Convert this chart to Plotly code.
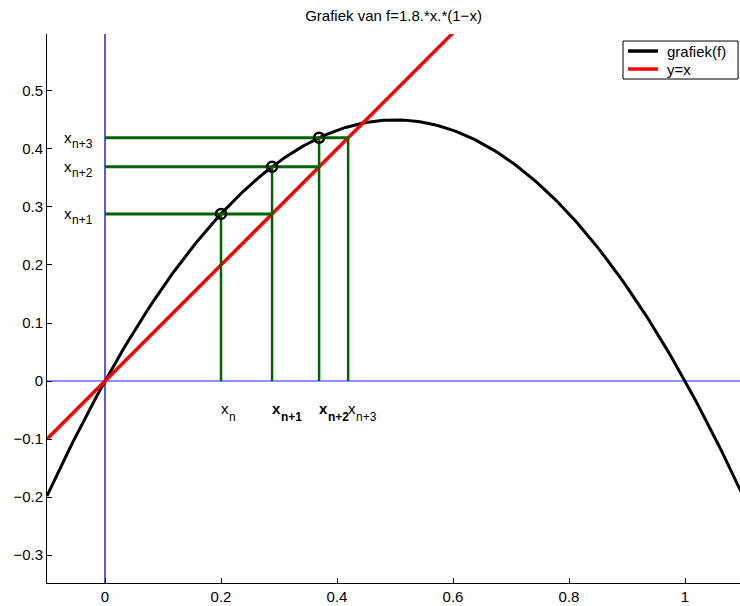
import numpy as np
import plotly.graph_objects as go

# Logistic map f(x) = r*x*(1-x) with r = 1.8
r = 1.8
curve_x = np.linspace(-0.1, 1.1, 241)
curve_y = r * curve_x * (1 - curve_x)

# identity line y = x
diag_x = [-0.1, 0.6]
diag_y = [-0.1, 0.6]

# cobweb iterates, starting at x_n = 0.2
iter_x = [0.2, 0.288, 0.3691, 0.4192]
iter_fx = [0.288, 0.3691, 0.4192]

x_ticks = [0, 0.2, 0.4, 0.6, 0.8, 1]
x_tick_text = ["0", "0.2", "0.4", "0.6", "0.8", "1"]
y_ticks = [-0.3, -0.2, -0.1, 0, 0.1, 0.2, 0.3, 0.4, 0.5]
y_tick_text = ["\u22120.3", "\u22120.2", "\u22120.1", "0", "0.1", "0.2", "0.3", "0.4", "0.5"]

legend_names = ["grafiek(f)", "y=x"]
legend_colors = ["black", "#ff0000"]

# iterate labels: (subscript, bold)
bottom_subs = [("n", False), ("n+1", True), ("n+2", True), ("n+3", False)]
left_subs = [("n+1", False), ("n+2", False), ("n+3", False)]

X_MIN, X_MAX = -0.1, 1.0948
Y_MIN, Y_MAX = -0.348, 0.598

GREEN = "#006400"
FONT = "Liberation Sans, Arial, sans-serif"

fig = go.Figure()


def add_sub_label(x, y, sub, bold, sub_drop):
    """Write 'x' with a lowered subscript, anchored at the left of (x, y)."""
    wrap = (lambda s: "<b>" + s + "</b>") if bold else (lambda s: s)
    fig.add_annotation(x=x, y=y, text=wrap("x"), showarrow=False, xanchor="left",
                       yanchor="middle", xshift=-2, font=dict(family=FONT, size=15, color="black"))
    fig.add_annotation(x=x, y=y, text=wrap(sub), showarrow=False, xanchor="left",
                       yanchor="middle", xshift=6 if not bold else 7, yshift=-sub_drop,
                       font=dict(family=FONT, size=12, color="black"))


# coordinate axes through the origin
fig.add_trace(go.Scatter(x=[X_MIN, X_MAX], y=[0, 0], mode="lines",
                         line=dict(color="#6b6bff", width=1.5), showlegend=False, hoverinfo="skip"))
fig.add_trace(go.Scatter(x=[0, 0], y=[Y_MIN, Y_MAX], mode="lines",
                         line=dict(color="#0000e0", width=1.3), showlegend=False, hoverinfo="skip"))

# graph of f and y = x
fig.add_trace(go.Scatter(x=curve_x, y=curve_y, mode="lines", name=legend_names[0],
                         line=dict(color=legend_colors[0], width=3), showlegend=False))
fig.add_trace(go.Scatter(x=diag_x, y=diag_y, mode="lines", name=legend_names[1],
                         line=dict(color=legend_colors[1], width=3.5), showlegend=False))

# vertical cobweb segments: from the x-axis up to f(x_k) (last one up to y=x)
tops = iter_fx + [iter_x[-1]]
for xv, top in zip(iter_x, tops):
    fig.add_trace(go.Scatter(x=[xv, xv], y=[0, top], mode="lines",
                             line=dict(color=GREEN, width=2.5), showlegend=False, hoverinfo="skip"))

# horizontal cobweb segments: from the y-axis to the diagonal at f(x_k)
for fy in iter_fx:
    fig.add_trace(go.Scatter(x=[0, fy], y=[fy, fy], mode="lines",
                             line=dict(color=GREEN, width=3), showlegend=False, hoverinfo="skip"))

# points (x_k, f(x_k)) on the graph
fig.add_trace(go.Scatter(x=iter_x[:3], y=iter_fx, mode="markers", showlegend=False,
                         marker=dict(symbol="circle-open", size=10, color="black",
                                     line=dict(color="black", width=2.5)), hoverinfo="skip"))

# labels below the x-axis
for xv, (sub, bold) in zip(iter_x, bottom_subs):
    add_sub_label(xv, -0.0466, sub, bold, 9)

# labels at the left of the horizontal segments
for fy, (sub, bold) in zip(iter_fx, left_subs):
    add_sub_label(-0.071, fy, sub, bold, 6)

# boxed legend in the upper right corner (paper coordinates)
fig.add_shape(type="rect", xref="paper", yref="paper", x0=0.8312, x1=0.9972, y0=0.918, y1=0.9872,
              line=dict(color="black", width=1), fillcolor="white", layer="above")
for i, (name, color) in enumerate(zip(legend_names, legend_colors)):
    ly = 0.969 - i * 0.0328
    fig.add_shape(type="line", xref="paper", yref="paper", x0=0.8384, x1=0.8817, y0=ly, y1=ly,
                  line=dict(color=color, width=3.5), layer="above")
    fig.add_annotation(xref="paper", yref="paper", x=0.8947, y=ly, text=name, showarrow=False,
                       xanchor="left", yanchor="middle", xshift=-2,
                       font=dict(family=FONT, size=15, color="black"))

fig.update_layout(
    width=740, height=606,
    margin=dict(l=47, r=0, t=34, b=23),
    paper_bgcolor="white", plot_bgcolor="white",
    font=dict(family=FONT, size=15, color="black"),
    title=dict(text="Grafiek van f=1.8.*x.*(1\u2212x)", x=0.5, xref="paper",
               y=1 - 16 / 606, yanchor="middle", font=dict(family=FONT, size=15, color="black")),
    showlegend=False,
)

fig.update_xaxes(range=[X_MIN, X_MAX], tickvals=x_ticks, ticktext=x_tick_text,
                 showgrid=False, zeroline=False, showline=True, linecolor="black", linewidth=1,
                 ticks="inside", ticklen=5, tickcolor="black", mirror=False,
                 tickfont=dict(family=FONT, size=15, color="black"))
fig.update_yaxes(range=[Y_MIN, Y_MAX], tickvals=y_ticks, ticktext=y_tick_text,
                 showgrid=False, zeroline=False, showline=True, linecolor="black", linewidth=1,
                 ticks="inside", ticklen=5, tickcolor="black", mirror=False,
                 tickfont=dict(family=FONT, size=15, color="black"))

fig.write_html("out.html")
